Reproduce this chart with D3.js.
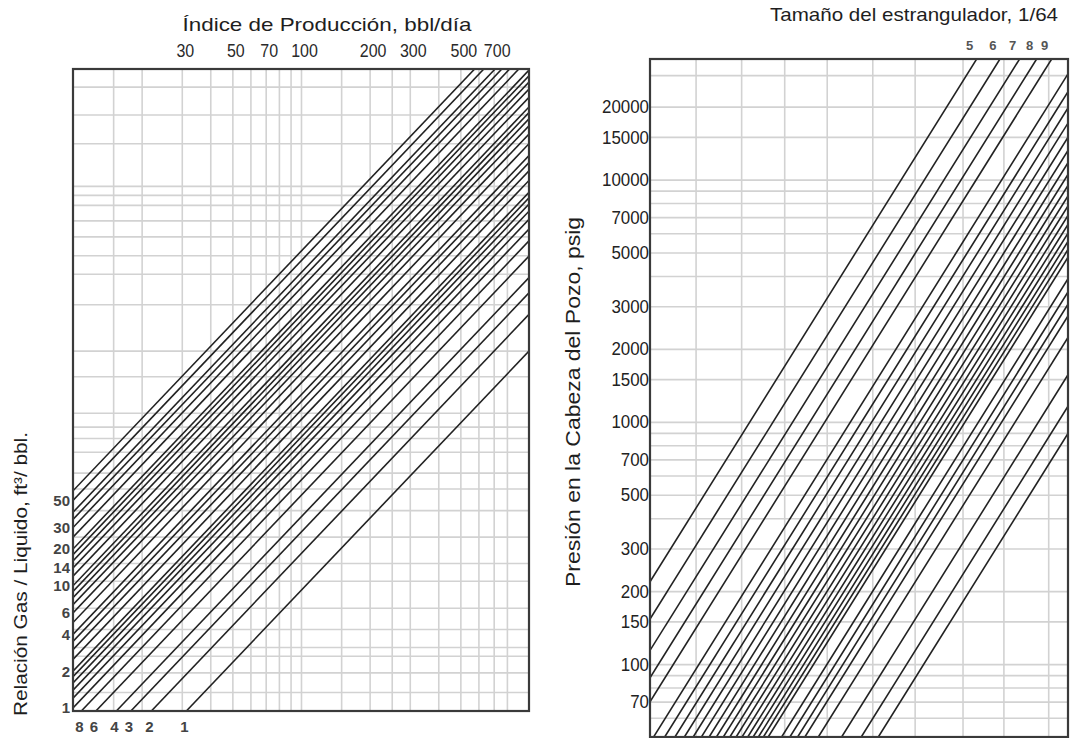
<!DOCTYPE html>
<html><head><meta charset="utf-8">
<script src="https://cdn.jsdelivr.net/npm/d3@7"></script>
<style>
body{margin:0;background:#fff}
svg{display:block}
.grid line{stroke:#d2d2d2;stroke-width:1.6}
.grid path{display:none}
.ticklab path,.ticklab line{display:none}
</style>
</head><body>
<svg id="chart" width="1070" height="738"></svg>
<script>
// ---------------- DATA ----------------
// Left panel: production index (bbl/día) vs. gas/liquid ratio lines
const rateTickValues = [30, 50, 70, 100, 200, 300, 500, 700];
const rateGridValues = [15, 20, 30, 40, 50, 60, 70, 80, 90, 100, 150, 200, 250, 300, 400, 500, 600, 700, 800];
const turnGridValues = [1.2, 1.45, 1.7, 1.85, 2.2, 2.7, 3.5, 4.15, 5.35, 6.9, 8.5, 9.9, 12.1, 13.8, 15.4, 17.6, 25, 32, 50, 67, 80, 96, 112, 130, 143, 156, 235, 310, 405];
const glrLines = [0.1, 0.2, 0.3, 0.4, 0.6, 0.8, 1, 1.2, 1.4, 1.6, 1.8, 2, 2.5, 3, 3.5, 4, 5, 6, 7, 8, 9, 10, 12, 14, 16, 18, 20, 25, 30, 35, 40, 50, 60];
const glrLeftLabels = [1, 2, 4, 6, 10, 14, 20, 30, 50];
const glrBottomLabels = [0.8, 0.6, 0.4, 0.3, 0.2, 0.1];
const glrBottomText = ["8", "6", "4", "3", "2", "1"];
const glrCoef = 0.103;
const glrExp = 0.51;

// Right panel: choke size lines vs. wellhead pressure
const chokeSizes = [5, 6, 7, 8, 9, 11, 12, 13, 14, 15, 16, 17, 18, 19, 20, 21, 22, 23, 24, 25, 26, 27, 30, 32, 34, 36, 40, 48, 56, 64];
const chokeTopLabels = [5, 6, 7, 8, 9];
const pressureTicks = [70, 100, 150, 200, 300, 500, 700, 1000, 1500, 2000, 3000, 5000, 7000, 10000, 15000, 20000];
const pressureGrid = [60, 70, 80, 90, 100, 150, 200, 300, 400, 500, 600, 700, 800, 900, 1000, 1500, 2000, 3000, 4000, 5000, 6000, 7000, 8000, 9000, 10000, 15000, 20000, 27000];
const turnGridRight = [2, 4, 7.7, 14.7, 29.4, 56, 116, 216, 427];
const chokeCoef = 4973;
const chokeExp = 1.941;

// ---------------- LAYOUT ----------------
const svg = d3.select("#chart");
const L = {x0: 73, x1: 529, y0: 69, y1: 711};
const R = {x0: 650, x1: 1068, y0: 59, y1: 737};

const xRate = d3.scaleLog().domain([10, 1000]).range([L.x0, L.x1]);
const yTurn = d3.scaleLog().domain([1, 480]).range([L.y1, L.y0]);
const xTurnR = d3.scaleLog().domain([1, 577]).range([R.x0, R.x1]);
const yP = d3.scaleLog().domain([50, 31460]).range([R.y1, R.y0]);

const sans = "'Liberation Sans',Arial,sans-serif";

// ---------- LEFT PANEL ----------
svg.append("g").attr("class", "grid")
  .attr("transform", `translate(0,${L.y1})`)
  .call(d3.axisBottom(xRate).tickValues(rateGridValues).tickSize(-(L.y1 - L.y0)).tickFormat(""));
svg.append("g").attr("class", "grid")
  .attr("transform", `translate(${L.x0},0)`)
  .call(d3.axisLeft(yTurn).tickValues(turnGridValues).tickSize(-(L.x1 - L.x0)).tickFormat(""));

const defs = svg.append("defs");
defs.append("clipPath").attr("id", "clipL")
  .append("rect").attr("x", L.x0).attr("y", L.y0).attr("width", L.x1 - L.x0).attr("height", L.y1 - L.y0);
defs.append("clipPath").attr("id", "clipR")
  .append("rect").attr("x", R.x0).attr("y", R.y0).attr("width", R.x1 - R.x0).attr("height", R.y1 - R.y0);

function glrSegment(g) {
  const m = glrCoef * Math.pow(g, glrExp);
  let q0 = 10, a0 = m * 10;
  if (a0 < 1) { q0 = 1 / m; a0 = 1; }
  const q1 = Math.min(1000, 480 / m), a1 = m * q1;
  return [[q0, a0], [q1, a1]];
}
svg.append("g").attr("clip-path", "url(#clipL)")
  .selectAll("line").data(glrLines).join("line")
  .each(function (g) {
    const s = glrSegment(g);
    d3.select(this)
      .attr("x1", xRate(s[0][0])).attr("y1", yTurn(s[0][1]))
      .attr("x2", xRate(s[1][0])).attr("y2", yTurn(s[1][1]));
  })
  .attr("stroke", "#222").attr("stroke-width", 1.6);

svg.append("rect").attr("x", L.x0).attr("y", L.y0).attr("width", L.x1 - L.x0).attr("height", L.y1 - L.y0)
  .attr("fill", "none").attr("stroke", "#3a3a3a").attr("stroke-width", 2.2);

// top rate labels (condensed look)
const topAx = svg.append("g").attr("class", "ticklab")
  .attr("transform", `translate(0,${L.y0})`)
  .call(d3.axisTop(xRate).tickValues(rateTickValues).tickSize(0).tickPadding(12).tickFormat(d3.format("d")));
topAx.selectAll("text")
  .attr("font-family", sans).attr("font-size", 18).attr("fill", "#2a2a2a")
  .attr("dx", 3)
  .attr("textLength", function () { return this.textContent.length * 8.9; })
  .attr("lengthAdjust", "spacingAndGlyphs");

// GLR labels (left and bottom)
svg.append("g").selectAll("text").data(glrLeftLabels).join("text")
  .attr("x", 70).attr("y", g => yTurn(glrCoef * 10 * Math.pow(g, glrExp)))
  .attr("dy", "0.36em").attr("text-anchor", "end")
  .attr("font-family", sans).attr("font-weight", "bold").attr("font-size", 15).attr("fill", "#444")
  .text(g => g);
svg.append("g").selectAll("text").data(glrBottomLabels).join("text")
  .attr("x", g => xRate(1 / (glrCoef * Math.pow(g, glrExp))) - 2).attr("y", 732)
  .attr("text-anchor", "middle")
  .attr("font-family", sans).attr("font-weight", "bold").attr("font-size", 15).attr("fill", "#444")
  .text((g, i) => glrBottomText[i]);

// titles left
svg.append("text").attr("x", 327).attr("y", 31).attr("text-anchor", "middle")
  .attr("font-family", sans).attr("font-size", 19).attr("fill", "#1e1e1e")
  .attr("textLength", 289).attr("lengthAdjust", "spacingAndGlyphs")
  .text("Índice de Producción, bbl/día");
svg.append("text").attr("transform", "translate(27,574) rotate(-90)").attr("text-anchor", "middle")
  .attr("font-family", sans).attr("font-size", 18).attr("fill", "#1e1e1e")
  .attr("textLength", 284).attr("lengthAdjust", "spacingAndGlyphs")
  .text("Relación Gas / Liquido, ft³/ bbl.");

// ---------- RIGHT PANEL ----------
svg.append("g").attr("class", "grid")
  .attr("transform", `translate(0,${R.y1})`)
  .call(d3.axisBottom(xTurnR).tickValues(turnGridRight).tickSize(-(R.y1 - R.y0)).tickFormat(""));
svg.append("g").attr("class", "grid")
  .attr("transform", `translate(${R.x0},0)`)
  .call(d3.axisLeft(yP).tickValues(pressureGrid).tickSize(-(R.x1 - R.x0)).tickFormat(""));

function chokeSegment(s) {
  const n = chokeCoef / Math.pow(s, chokeExp);
  let x0 = 1, p0 = n;
  if (p0 < 50) { x0 = 50 / n; p0 = 50; }
  const x1 = Math.min(577, 31460 / n), p1 = n * x1;
  return [[x0, p0], [x1, p1]];
}
svg.append("g").attr("clip-path", "url(#clipR)")
  .selectAll("line").data(chokeSizes).join("line")
  .each(function (s) {
    const seg = chokeSegment(s);
    d3.select(this)
      .attr("x1", xTurnR(seg[0][0])).attr("y1", yP(seg[0][1]))
      .attr("x2", xTurnR(seg[1][0])).attr("y2", yP(seg[1][1]));
  })
  .attr("stroke", "#222").attr("stroke-width", 1.6);

svg.append("rect").attr("x", R.x0).attr("y", R.y0).attr("width", R.x1 - R.x0).attr("height", R.y1 - R.y0)
  .attr("fill", "none").attr("stroke", "#3a3a3a").attr("stroke-width", 2.2);

// pressure tick labels (condensed look)
const pAx = svg.append("g").attr("class", "ticklab")
  .attr("transform", `translate(${R.x0},0)`)
  .call(d3.axisLeft(yP).tickValues(pressureTicks).tickSize(0).tickPadding(1).tickFormat(d3.format("d")));
pAx.selectAll("text")
  .attr("font-family", sans).attr("font-size", 19).attr("fill", "#222")
  .attr("textLength", function () { return this.textContent.length * 9.4; })
  .attr("lengthAdjust", "spacingAndGlyphs");

// choke labels on top
svg.append("g").selectAll("text").data(chokeTopLabels).join("text")
  .attr("x", s => xTurnR(31460 * Math.pow(s, chokeExp) / chokeCoef) - 7).attr("y", 50)
  .attr("text-anchor", "middle")
  .attr("font-family", sans).attr("font-weight", "bold").attr("font-size", 13).attr("fill", "#555")
  .text(s => s);

// titles right
svg.append("text").attr("x", 914).attr("y", 21).attr("text-anchor", "middle")
  .attr("font-family", sans).attr("font-size", 19).attr("fill", "#1e1e1e")
  .attr("textLength", 288).attr("lengthAdjust", "spacingAndGlyphs")
  .text("Tamaño del estrangulador, 1/64");
svg.append("text").attr("transform", "translate(580,402) rotate(-90)").attr("text-anchor", "middle")
  .attr("font-family", sans).attr("font-size", 20).attr("fill", "#1e1e1e")
  .attr("textLength", 370).attr("lengthAdjust", "spacingAndGlyphs")
  .text("Presión en la Cabeza del Pozo, psig");
</script>
</body></html>
